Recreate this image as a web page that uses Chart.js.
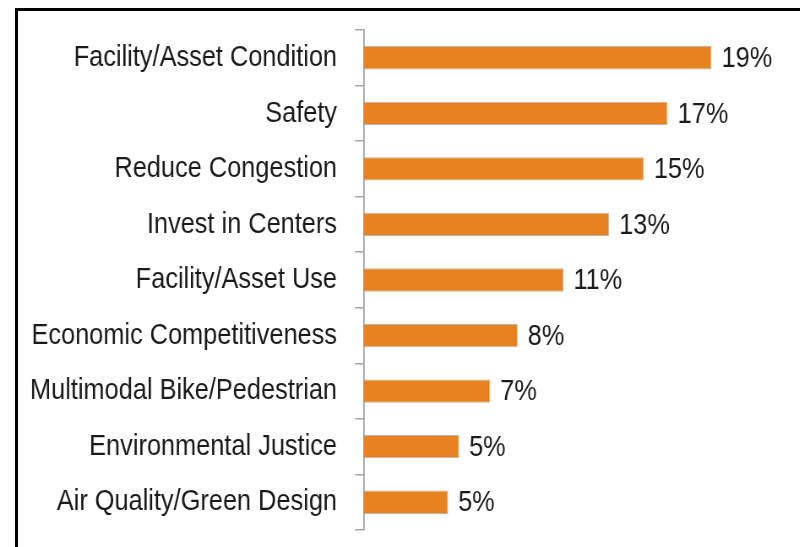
<!DOCTYPE html>
<html>
<head>
<meta charset="utf-8">
<script src="https://cdn.jsdelivr.net/npm/chart.js@4"></script>
<style>
  body { margin: 0; background: #fff; overflow: hidden; }
  #wrap { position: relative; width: 800px; height: 547px; overflow: hidden; }
  /* the original art is horizontally squeezed, so draw wide and squeeze */
  #my-chart { position: absolute; left: 0; top: 0; transform: scaleX(0.8446); transform-origin: 0 0; }
  #frame {
    position: absolute; left: 15px; top: 8px; right: -5px; bottom: -5px;
    border-top: 3px solid #000; border-left: 3px solid #000;
    pointer-events: none;
  }
</style>
</head>
<body>
<div id="wrap">
  <canvas id="my-chart" width="947" height="547"></canvas>
  <div id="frame"></div>
</div>
<script>
'use strict';

// Data
let categories = [
  'Facility/Asset Condition',
  'Safety',
  'Reduce Congestion',
  'Invest in Centers',
  'Facility/Asset Use',
  'Economic Competitiveness',
  'Multimodal Bike/Pedestrian',
  'Environmental Justice',
  'Air Quality/Green Design'
];
let shares = [19.0, 16.6, 15.3, 13.4, 10.9, 8.4, 6.9, 5.2, 4.6];
let shareLabels = ['19%', '17%', '15%', '13%', '11%', '8%', '7%', '5%', '5%'];

let fontFamily = "'Liberation Sans', Arial, sans-serif";
let squeeze = 1.184; // canvas px per screen px, horizontally

// draws the % text at the end of each bar
let valueLabels = {
  id: 'valueLabels',
  afterDatasetsDraw(chart) {
    let ctx = chart.ctx;
    let meta = chart.getDatasetMeta(0);
    ctx.save();
    ctx.font = '30px ' + fontFamily;
    ctx.fillStyle = '#1a1a1a';
    ctx.textAlign = 'left';
    ctx.textBaseline = 'middle';
    meta.data.forEach(function (bar, i) {
      ctx.fillText(shareLabels[i], bar.x + 10 * squeeze, bar.y + 1);
    });
    ctx.restore();
  }
};

let canvasElem = document.getElementById('my-chart');

new Chart(canvasElem, {
  type: 'bar',
  data: {
    labels: categories,
    datasets: [{
      data: shares,
      backgroundColor: '#E6821F',
      borderColor: 'rgba(160,150,140,0.7)',
      borderWidth: 1,
      borderSkipped: 'left',
      categoryPercentage: 1,
      barPercentage: 0.42
    }]
  },
  options: {
    indexAxis: 'y',
    responsive: false,
    animation: false,
    layout: { padding: { top: 30, bottom: 17, right: 70 * squeeze, left: 0 } },
    plugins: {
      legend: { display: false },
      tooltip: { enabled: false }
    },
    scales: {
      x: {
        display: false,
        min: 0,
        max: 20
      },
      y: {
        afterFit: function (scale) {
          scale.width = 364 * squeeze;
          scale.paddingTop = 0;
          scale.paddingBottom = 0;
        },
        border: { display: true, color: '#a6a6a6', width: 1.8 },
        grid: {
          drawOnChartArea: false,
          drawTicks: true,
          tickLength: 9 * squeeze,
          color: '#a6a6a6',
          lineWidth: 1.5
        },
        ticks: {
          padding: 18 * squeeze,
          color: '#1a1a1a',
          font: { family: fontFamily, size: 30 }
        }
      }
    }
  },
  plugins: [valueLabels]
});
</script>
</body>
</html>
